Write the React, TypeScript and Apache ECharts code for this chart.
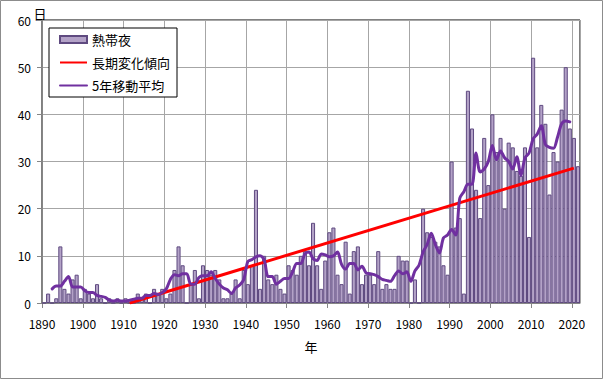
import { useEffect, useRef } from 'react';
import * as echarts from 'echarts';

// ---- data ----
const firstYear = 1890;
const nights1890s = [0, 2, 0, 1, 12, 3, 2, 5, 6, 1];
const nights1900s = [3, 2, 1, 4, 1, 0, 1, 0, 1, 0];
const nights1910s = [1, 0, 0, 2, 1, 2, 0, 3, 2, 3];
const nights1920s = [1, 2, 7, 12, 8, 0, 4, 7, 1, 8];
const nights1930s = [7, 6, 7, 5, 1, 1, 2, 5, 1, 7];
const nights1940s = [4, 8, 24, 3, 10, 5, 4, 6, 3, 2];
const nights1950s = [8, 7, 6, 10, 11, 8, 17, 8, 3, 9];
const nights1960s = [15, 16, 6, 4, 13, 2, 11, 12, 4, 6];
const nights1970s = [6, 4, 11, 3, 4, 3, 3, 10, 9, 9];
const nights1980s = [0, 5, 0, 20, 15, 14, 13, 12, 8, 6];
const nights1990s = [30, 16, 18, 2, 45, 37, 24, 18, 35, 25];
const nights2000s = [40, 32, 35, 20, 34, 33, 28, 27, 33, 14];
const nights2010s = [52, 33, 42, 38, 23, 32, 30, 41, 50, 37];
const nights2020s = [35, 29];

const trendYears = [1911, 2020];
const trendValues = [0, 28.6];

const xTickLabels = ['1890', '1900', '1910', '1920', '1930', '1940', '1950', '1960', '1970', '1980', '1990', '2000', '2010', '2020'];
const yTickLabels = ['0', '10', '20', '30', '40', '50', '60'];

const seriesNames = ['熱帯夜', '長期変化傾向', '5年移動平均'];
const yUnit = '日';
const xName = '年';

const tropicalNights = [
  ...nights1890s, ...nights1900s, ...nights1910s, ...nights1920s, ...nights1930s,
  ...nights1940s, ...nights1950s, ...nights1960s, ...nights1970s, ...nights1980s,
  ...nights1990s, ...nights2000s, ...nights2010s, ...nights2020s,
];

const FONT = "'Noto Sans CJK JP', 'Noto Sans', sans-serif";

export default function App() {
  const ref = useRef<HTMLDivElement>(null);

  useEffect(() => {
    if (!ref.current) return;
    const chart = echarts.init(ref.current, undefined, { renderer: 'svg' });

    const barData = tropicalNights.map((v, i) => [firstYear + i, v]);
    const maData: number[][] = [];
    for (let i = 2; i < tropicalNights.length - 2; i++) {
      let s = 0;
      for (let j = i - 2; j <= i + 2; j++) s += tropicalNights[j];
      maData.push([firstYear + i, s / 5]);
    }
    const trendData = trendYears.map((y, i) => [y, trendValues[i]]);

    const lastYear = firstYear + tropicalNights.length - 1;

    chart.setOption({
      animation: false,
      backgroundColor: '#ffffff',
      textStyle: { fontFamily: FONT },
      grid: {
        left: 42, top: 20, right: 23, bottom: 76,
        show: true, borderColor: '#000000', borderWidth: 1, backgroundColor: 'transparent',
      },
      legend: {
        orient: 'vertical',
        left: 49, top: 28,
        backgroundColor: '#ffffff',
        borderColor: '#000000', borderWidth: 1,
        padding: [5, 7, 5, 10],
        itemWidth: 27, itemHeight: 7, itemGap: 10, itemTextGap: 3,
        textStyle: { fontSize: 13, color: '#000000', fontFamily: FONT },
        data: [
          { name: seriesNames[0], icon: 'rect' },
          { name: seriesNames[1], itemStyle: { opacity: 0 } },
          { name: seriesNames[2], itemStyle: { opacity: 0 } },
        ],
      },
      xAxis: {
        type: 'value',
        min: firstYear - 0.5,
        max: lastYear + 0.5,
        interval: 10,
        name: xName,
        nameLocation: 'middle',
        nameGap: 37,
        nameTextStyle: { fontSize: 13, color: '#000000', fontFamily: FONT },
        axisLine: { show: true, lineStyle: { color: '#868686', width: 1 } },
        axisTick: { show: true, length: 5, lineStyle: { color: '#868686' } },
        axisLabel: {
          margin: 14, fontSize: 12, color: '#000000', fontFamily: FONT,
          showMaxLabel: false,
          formatter: (v: number) => {
            const y = String(Math.round(v + 0.5));
            return xTickLabels.includes(y) ? y : '';
          },
        },
        splitLine: { show: true, lineStyle: { color: '#a6a6a6', width: 1 } },
      },
      yAxis: {
        type: 'value',
        min: 0, max: 60, interval: 10,
        axisLine: { show: true, lineStyle: { color: '#868686', width: 1 } },
        axisTick: { show: true, length: 5, lineStyle: { color: '#868686' } },
        axisLabel: {
          margin: 11, fontSize: 12, color: '#000000', fontFamily: FONT,
          formatter: (v: number) => (yTickLabels.includes(String(v)) ? String(v) : ''),
        },
        splitLine: { show: true, lineStyle: { color: '#a6a6a6', width: 1 } },
      },
      graphic: [
        {
          type: 'rect', silent: true, z: -10,
          shape: { x: 0.5, y: 0.5, width: 602, height: 378 },
          style: { fill: 'none', stroke: '#8c8c8c', lineWidth: 1 },
        },
        {
          type: 'text', silent: true,
          x: 40, y: 13,
          style: {
            text: yUnit, fontSize: 13, fontFamily: FONT, fill: '#000000',
            textAlign: 'center', textVerticalAlign: 'middle',
          },
        },
      ],
      series: [
        {
          name: seriesNames[0],
          type: 'bar',
          data: barData,
          barWidth: 538 / tropicalNights.length,
          itemStyle: { color: '#b3a2c7', borderColor: '#5f4a80', borderWidth: 1 },
        },
        {
          name: seriesNames[1],
          type: 'line',
          data: trendData,
          symbol: 'none',
          lineStyle: { color: '#ff0000', width: 3 },
          itemStyle: { color: '#ff0000' },
        },
        {
          name: seriesNames[2],
          type: 'line',
          data: maData,
          symbol: 'none',
          smooth: 0.3,
          lineStyle: { color: '#7030a0', width: 3, cap: 'round', join: 'round' },
          itemStyle: { color: '#7030a0' },
        },
      ],
    });

    return () => chart.dispose();
  }, []);

  return (
    <div
      ref={ref}
      style={{ position: 'absolute', left: 0, top: 0, width: 603, height: 379 }}
    />
  );
}
